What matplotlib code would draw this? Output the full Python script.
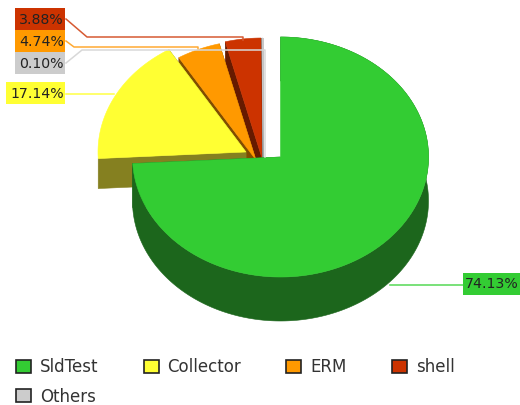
import numpy as np
import matplotlib
matplotlib.use("Agg")
import matplotlib.pyplot as plt
from matplotlib.patches import Polygon, Rectangle

plt.rcParams["font.family"] = ["DejaVu Sans"]

names = ["SldTest", "Collector", "ERM", "shell", "Others"]
shares = [74.13, 17.14, 4.74, 3.88, 0.10]
labels = ["74.13%", "17.14%", "4.74%", "3.88%", "0.10%"]
colors = ["#33CC33", "#FFFF33", "#FF9900", "#CC3300", "#CCCCCC"]
walls = ["#1C661C", "#858020", "#804D00", "#661A00", "#666666"]
leaders = ["#55D855", "#FFFF44", "#FFAA33", "#D65A33", "#D8D8D8"]

centres = [(280.5, 157), (246, 152), (256, 160), (262, 158), (263, 158)]
depths = [44, 30, 30, 30, 30]
RX, RY = 148, 120

boxes = [(463, 273, 57, 22), (6, 82, 59, 22), (15, 30, 50, 22), (15, 8, 50, 22), (15, 52, 50, 22)]
paths = [
    [(390, 285), (463, 285)],
    [(66, 94), (114, 94)],
    [(66, 41), (74, 47), (198, 47), (198, 49)],
    [(66, 19), (87, 37), (243, 37), (243, 40)],
    [(66, 63), (82, 50), (265, 50), (265, 157)],
]

fig = plt.figure(figsize=(5.2, 4.05), dpi=100)
ax = fig.add_axes([0, 0, 1, 1])
ax.set_xlim(0, 520)
ax.set_ylim(405, 0)
ax.axis("off")


def arc(c, a0, a1):
    t = np.radians(np.linspace(a0, a1, max(int(abs(a1 - a0) * 2), 2)))
    return np.column_stack([c[0] + RX * np.sin(t), c[1] - RY * np.cos(t)])


ends = np.cumsum(shares) * 3.6
starts = np.concatenate([[0], ends[:-1]])


def draw_slice(i, z):
    c = centres[i]
    pts = arc(c, starts[i], ends[i])
    d = np.array([0, depths[i]])
    for edge in (pts[0], pts[-1]):
        ax.add_patch(Polygon([c, edge, edge + d, np.array(c) + d], closed=True,
                             fc=walls[i], ec=walls[i], lw=0.4, zorder=z))
    if i == 0:
        ax.add_patch(Polygon(np.vstack([pts, (pts + d)[::-1]]), closed=True,
                             fc=walls[i], ec=walls[i], lw=0.4, zorder=z))
    ax.add_patch(Polygon(np.vstack([[c], pts]), closed=True, fc=colors[i],
                         ec=colors[i], lw=0.4, zorder=z + 0.5))


for z, i in enumerate([3, 4, 2, 1, 0]):
    draw_slice(i, 2 + z)

for i in range(len(names)):
    xs, ys = zip(*paths[i])
    ax.plot(xs, ys, color=leaders[i], lw=1.1, zorder=9, solid_joinstyle="round")
    x, y, w, h = boxes[i]
    ax.add_patch(Rectangle((x, y), w, h, fc=colors[i], ec="none", zorder=10))
    ax.text(x + w - 1, y + h / 2 + 0.5, labels[i], ha="right", va="center",
            fontsize=10.2, color="#222222", zorder=11)

handles = [Rectangle((0, 0), 1, 1, fc=c, ec="#222222", lw=1.2) for c in colors]
order = [0, 4, 1, 2, 3]
leg = ax.legend([handles[i] for i in order], [names[i] for i in order], ncol=4,
                loc="upper left", bbox_to_anchor=(16 / 520, 1 - 358 / 405),
                borderaxespad=0, borderpad=0, frameon=False, fontsize=12.0,
                columnspacing=2.7, handlelength=0.9, handleheight=0.84,
                handletextpad=0.54, labelspacing=0.7, labelcolor="#333333")

fig.savefig("out.png", dpi=100, facecolor="white")
